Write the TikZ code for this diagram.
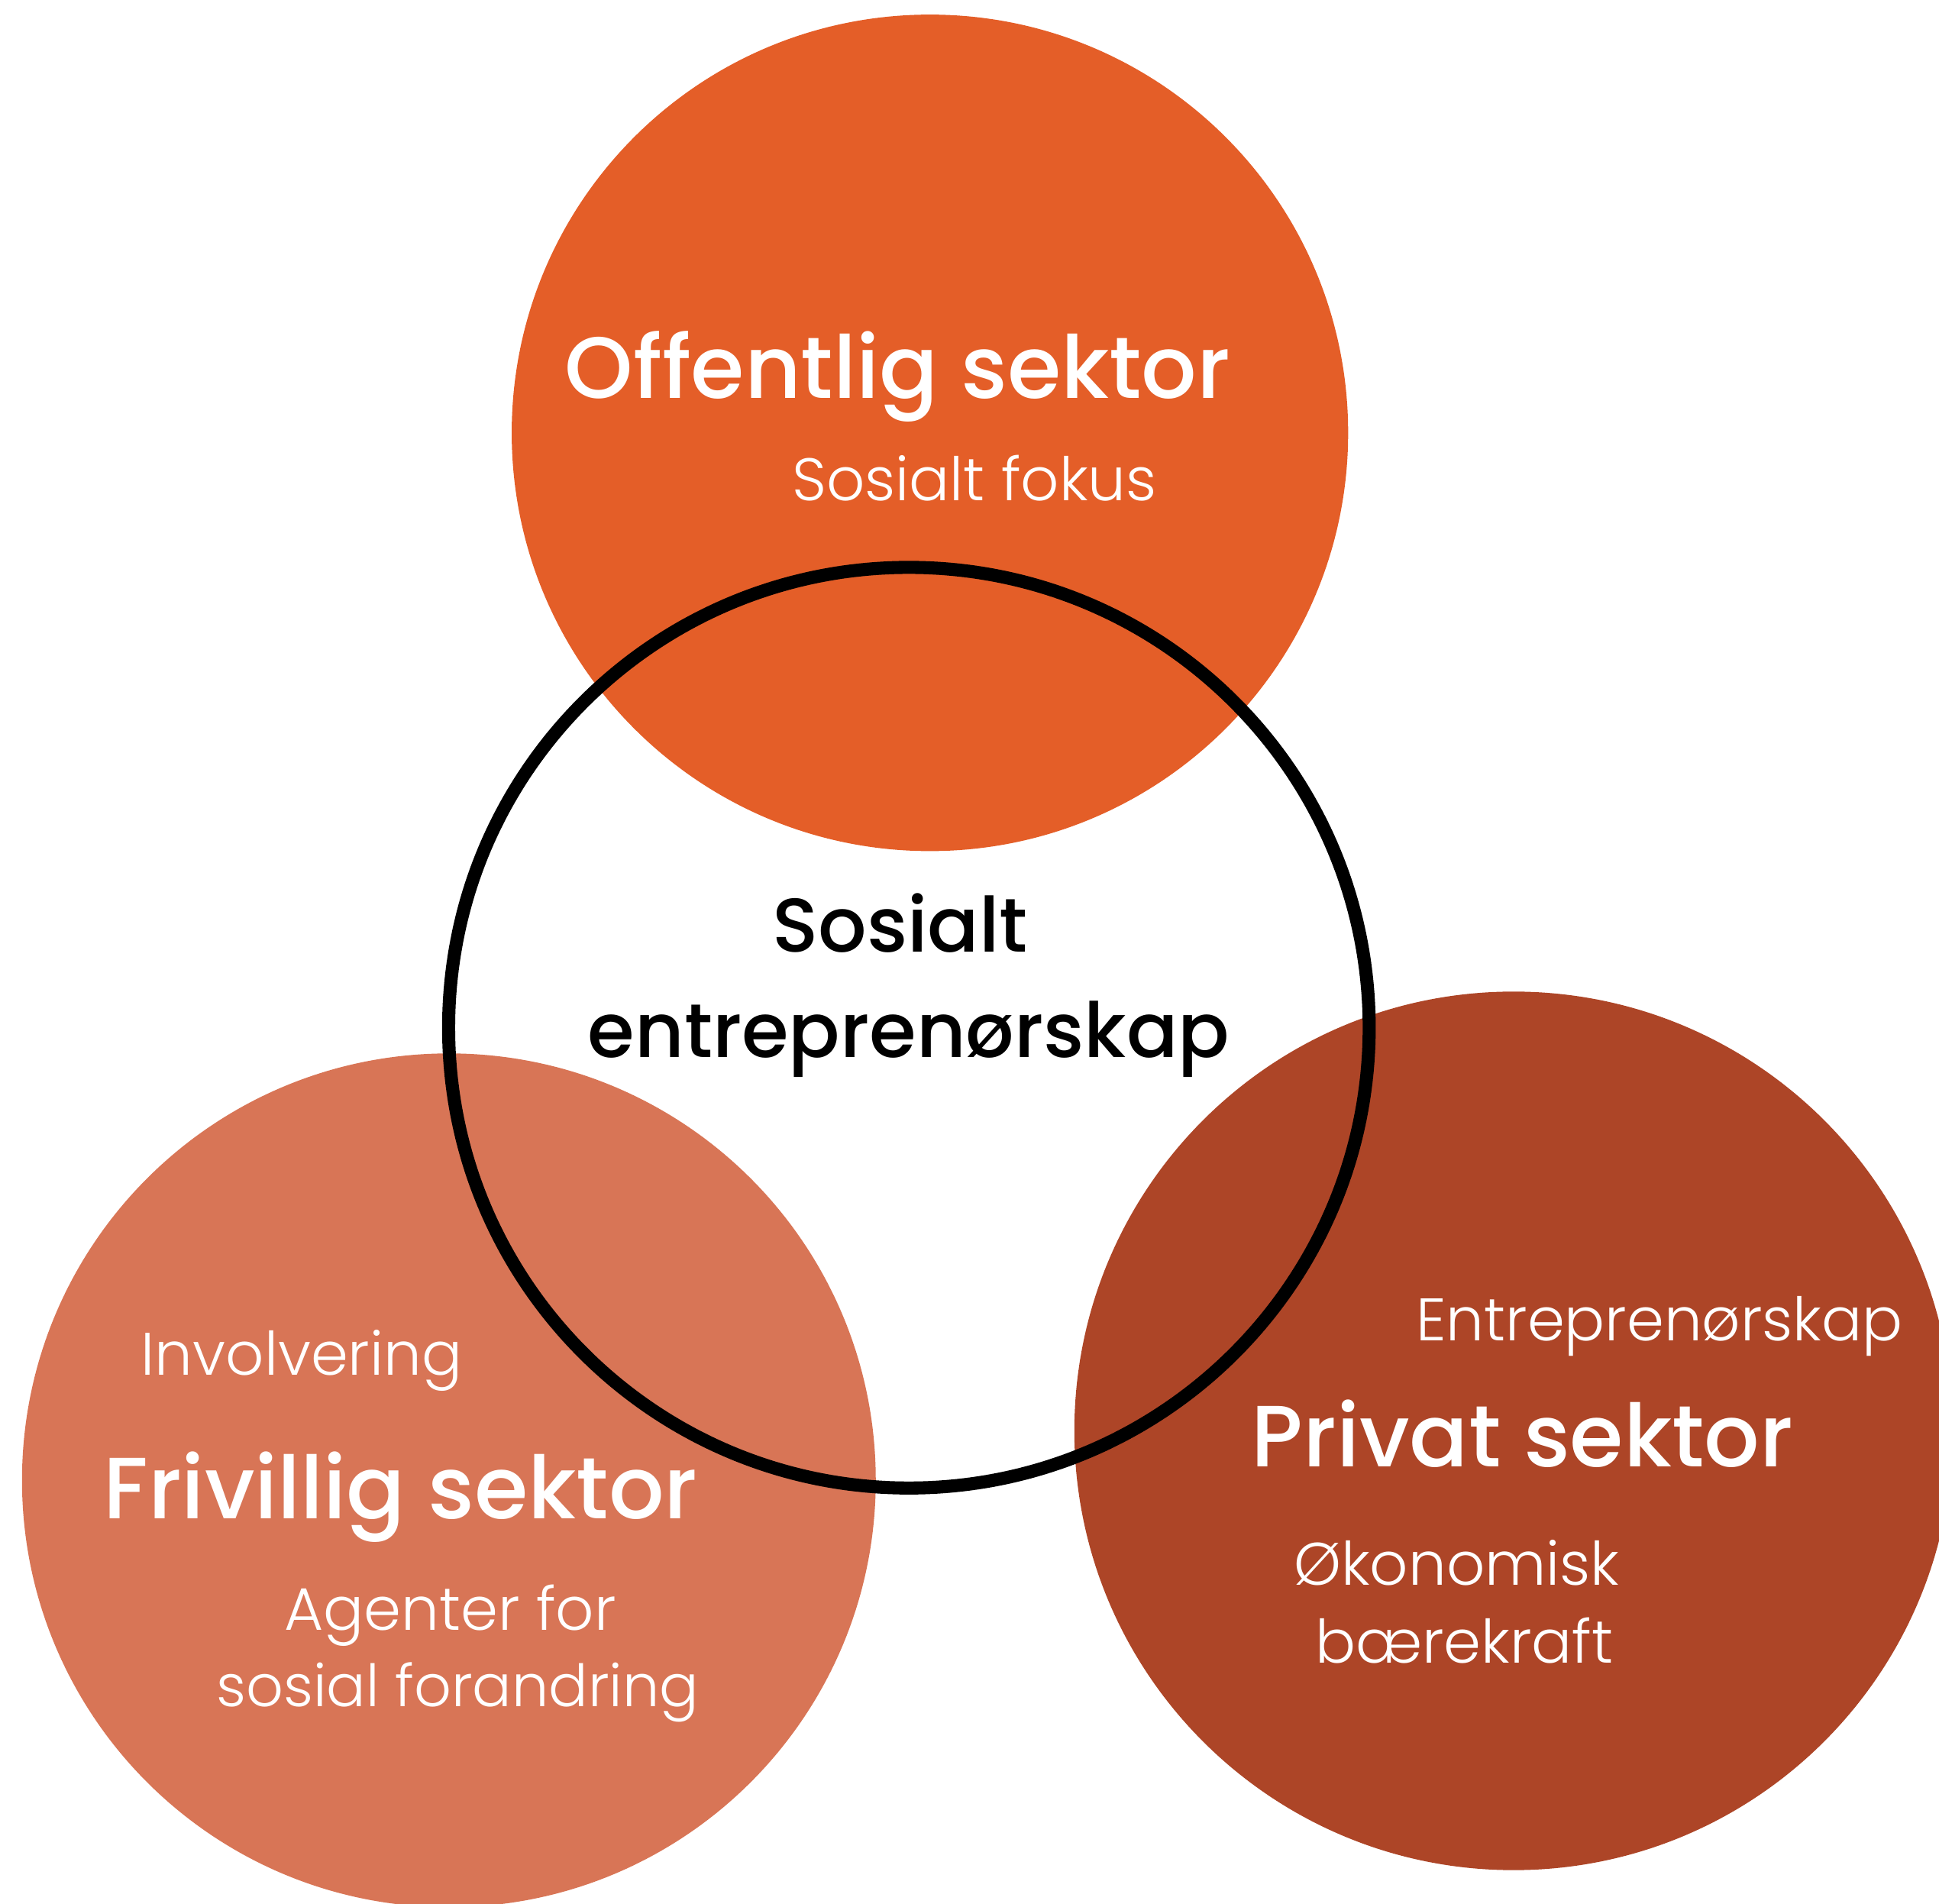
\documentclass[tikz,border=0pt]{standalone}
\usepackage{fontspec}
\setmainfont{Poppins}
\newfontfamily\lightfont{Poppins Light}
\newfontfamily\semifont{Poppins Medium}
\definecolor{offcol}{HTML}{E45E28}
\definecolor{fricol}{HTML}{D87556}
\definecolor{pricol}{HTML}{AD4527}

\begin{document}
\begin{tikzpicture}[x=0.01cm, y=-0.01cm,
  sector/.style = {circle, inner sep=0pt},
  title/.style = {text=white, font=\semifont\fontsize{20}{24}\selectfont, anchor=base, inner sep=0pt},
  sub/.style = {text=white, font=\lightfont\fontsize{13.8}{18}\selectfont, anchor=base, inner sep=0pt},
  core/.style = {text=black, font=\semifont\fontsize{17.5}{22}\selectfont, anchor=base, inner sep=0pt}]
	\useasboundingbox (0,0) rectangle (1568,1539);
	\node[sector, fill=fricol, minimum size=6.9cm] (F) at (363, 1197){};
	\node[sector, fill=pricol, minimum size=7.1cm] (P) at (1224, 1157){};
	\node[sector, fill=offcol, minimum size=6.76cm] (O) at (752, 350){};
	\node[sector, draw=black, line width=3pt, minimum size=7.44cm] (S) at (735, 831){};
	% texts
	\node[title] (Otitle) at (726, 322){Offentlig sektor};
	\node[sub] (Osub) at (788, 405){Sosialt fokus};
	\node[core] (S1) at (728, 770){Sosialt};
	\node[core] (S2) at (735, 855){entreprenørskap};
	\node[sub] (Fsup) at (244, 1112){Involvering};
	\node[title] (Ftitle) at (324, 1228){Frivillig sektor};
	\node[sub] (Fsub1) at (364, 1318){Agenter for};
	\node[sub, font=\lightfont\fontsize{13.4}{18}\selectfont] (Fsub2) at (370, 1380){sosial forandring};
	\node[sub] (Psup) at (1342, 1084){Entreprenørskap};
	\node[title] (Ptitle) at (1231, 1186){Privat sektor};
	\node[sub] (Psub1) at (1178, 1282){Økonomisk};
	\node[sub] (Psub2) at (1184, 1345){bærekraft};
\end{tikzpicture}
\end{document}
